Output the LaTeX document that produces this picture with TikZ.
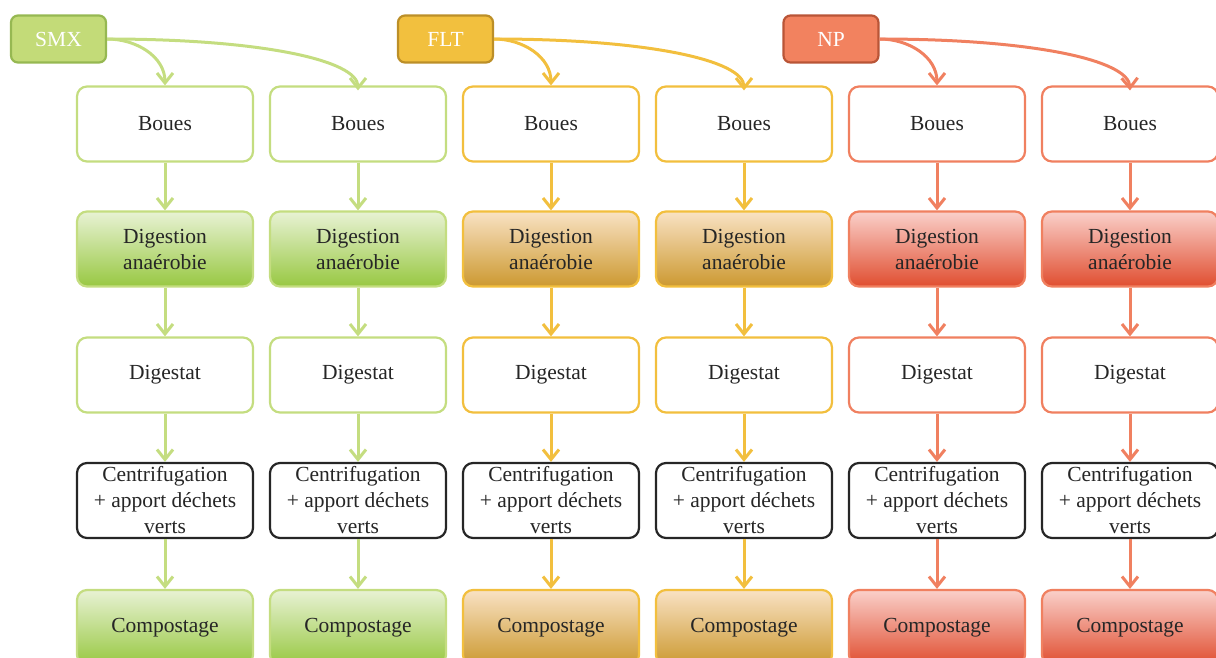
\documentclass[tikz,border=0pt]{standalone}
\usepackage{fontspec}
\setmainfont{Liberation Serif}
\usetikzlibrary{arrows.meta}
\definecolor{gLine}{RGB}{196,221,128}
\definecolor{gHead}{RGB}{195,219,120}
\definecolor{gHeadB}{RGB}{150,184,82}
\definecolor{gTop}{RGB}{232,242,212}
\definecolor{gBot}{RGB}{152,200,66}
\definecolor{yLine}{RGB}{242,191,62}
\definecolor{yHead}{RGB}{242,192,62}
\definecolor{yHeadB}{RGB}{188,143,40}
\definecolor{yTop}{RGB}{249,226,196}
\definecolor{yBot}{RGB}{204,153,48}
\definecolor{oLine}{RGB}{240,128,96}
\definecolor{oHead}{RGB}{242,130,95}
\definecolor{oHeadB}{RGB}{185,85,55}
\definecolor{oTop}{RGB}{250,208,202}
\definecolor{oBot}{RGB}{224,78,48}
\tikzset{
  box/.style={draw, rounded corners=10pt, line width=2.2pt, minimum width=176pt,
    minimum height=75pt, align=center, inner sep=0pt,
    font=\fontsize{21.5}{26}\selectfont, text=black!85},
  head/.style={draw, rounded corners=7pt, line width=2.2pt, minimum width=95pt,
    minimum height=47pt, inner sep=0pt, text=white, font=\fontsize{21.5}{24}\selectfont},
  arr/.style={line width=3pt, -{Straight Barb[length=10pt,width=16pt]}}
}
\begin{document}
\begin{tikzpicture}[x=1pt,y=-1pt]
\useasboundingbox (0,0) rectangle (1216,657);
\clip (0,0) rectangle (1216,657);
% headers
\node[head, fill=gHead, draw=gHeadB] (smx) at (58.5,39) {SMX};
\node[head, fill=yHead, draw=yHeadB] (flt) at (445.5,39) {FLT};
\node[head, fill=oHead, draw=oHeadB] (np) at (831,39) {NP};
% columns
\foreach \i/\ln/\tp/\bt in {1/gLine/gTop/gBot,2/gLine/gTop/gBot,3/yLine/yTop/yBot,4/yLine/yTop/yBot,5/oLine/oTop/oBot,6/oLine/oTop/oBot}{
  \pgfmathsetmacro{\cx}{165+193*(\i-1)}
  \node[box, draw=\ln, fill=white] (b\i) at (\cx,124) {Boues};
  \node[box, draw=\ln, top color=\tp, bottom color=\bt] (d\i) at (\cx,249) {Digestion\\anaérobie};
  \node[box, draw=\ln, fill=white] (g\i) at (\cx,375) {Digestat};
  \node[box, draw=black!85, fill=white] (c\i) at (\cx,500.5) {Centrifugation\\+ apport déchets\\verts};
  \node[box, draw=\ln, top color=\tp, bottom color=\bt] (p\i) at (\cx,627.5) {Compostage};
  \draw[arr, \ln] (b\i.south) -- (d\i.north);
  \draw[arr, \ln] (d\i.south) -- (g\i.north);
  \draw[arr, \ln] (g\i.south) -- (c\i.north);
  \draw[arr, \ln] (c\i.south) -- (p\i.north);
}
% header arrows
\coordinate (t2) at ([yshift=-5pt]b2.north);
\coordinate (t4) at ([yshift=-5pt]b4.north);
\coordinate (t6) at ([yshift=-5pt]b6.north);
\draw[arr, gLine] (smx.east) to[out=0,in=90] (b1.north);
\draw[arr, gLine] (smx.east) .. controls (260,39) and (358,60) .. (t2);
\draw[arr, yLine] (flt.east) to[out=0,in=90] (b3.north);
\draw[arr, yLine] (flt.east) .. controls (646,39) and (744,60) .. (t4);
\draw[arr, oLine] (np.east) to[out=0,in=90] (b5.north);
\draw[arr, oLine] (np.east) .. controls (1032,39) and (1129,60) .. (t6);
\end{tikzpicture}
\end{document}
